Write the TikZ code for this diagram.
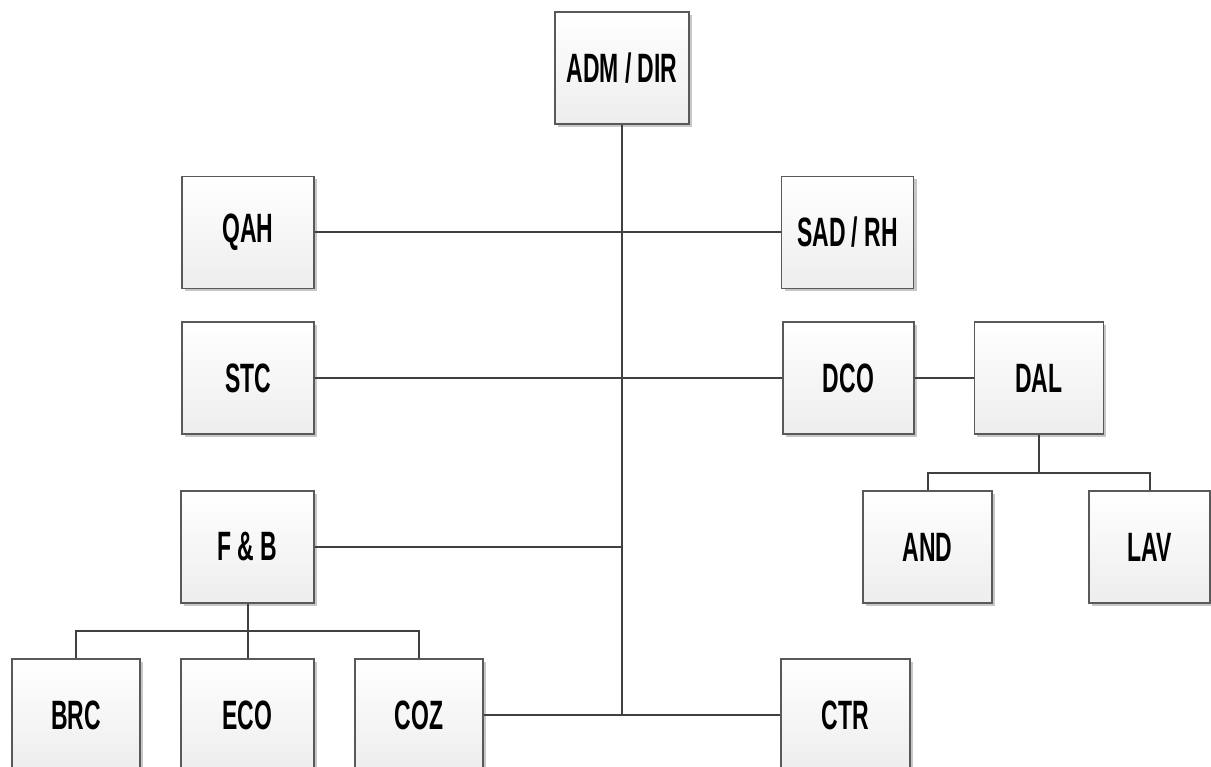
\documentclass[tikz,border=0pt]{standalone}
\usepackage{fontspec}
\newfontfamily\orgfont{Liberation Sans}[FakeStretch=0.56]
\usetikzlibrary{positioning,calc,shadows}

\begin{document}
\begin{tikzpicture}[
  x=1pt, y=-1pt,
  font=\orgfont\bfseries\fontsize{41}{44}\selectfont,
  box/.style={draw=black!65, line width=1.1pt, top color=white, bottom color=black!7,
              minimum width=132pt, minimum height=112pt, inner sep=0pt,
              drop shadow={shadow xshift=3pt, shadow yshift=-3pt, fill=black!22, opacity=1}},
  link/.style={draw=black!75, line width=2pt},
]
\useasboundingbox (0,0) rectangle (1211,767);
% top and spine
\node[box, minimum width=134pt] (adm) at (622,68) {ADM / DIR};
\node[box] (qah) at (248,232.5) {QAH};
\node[box] (sad) at (847.5,232.5) {SAD / RH};
\node[box] (stc) at (248,378) {STC};
\node[box, minimum width=131pt] (dco) at (848.5,378) {DCO};
\node[box, minimum width=129pt, right=59pt of dco] (dal) {DAL};
\node[box, minimum width=129pt] (and) at (927.5,547) {AND};
\node[box, minimum width=121pt] (lav) at (1149.5,547) {LAV};
\node[box, minimum width=133pt] (fb) at (247.5,547) {F \& B};
% bottom row
\node[box, minimum width=128pt] (brc) at (76,715) {BRC};
\node[box, minimum width=133pt] (eco) at (247.5,715) {ECO};
\node[box, minimum width=128pt] (coz) at (419,715) {COZ};
\node[box, minimum width=129pt] (ctr) at (845.5,715) {CTR};
\coordinate (fbj) at ($(fb.south)!0.5!(eco.north)$);
\coordinate (dalj) at ($(dal.south)+(0,38)$);
\draw[link] (adm.south) -- (adm |- ctr);
\draw[link] (qah) -- (sad);
\draw[link] (stc) -- (dco);
\draw[link] (dco) -- (dal);
\draw[link] (fb.east) -- (fb -| adm);
\draw[link] (coz) -- (ctr);
\draw[link] (fb.south) -- (eco.north);
\draw[link] (brc.north) |- (fbj) -| (coz.north);
\draw[link] (dal.south) -- (dalj);
\draw[link] (and.north) |- (dalj) -| (lav.north);
\end{tikzpicture}
\end{document}
